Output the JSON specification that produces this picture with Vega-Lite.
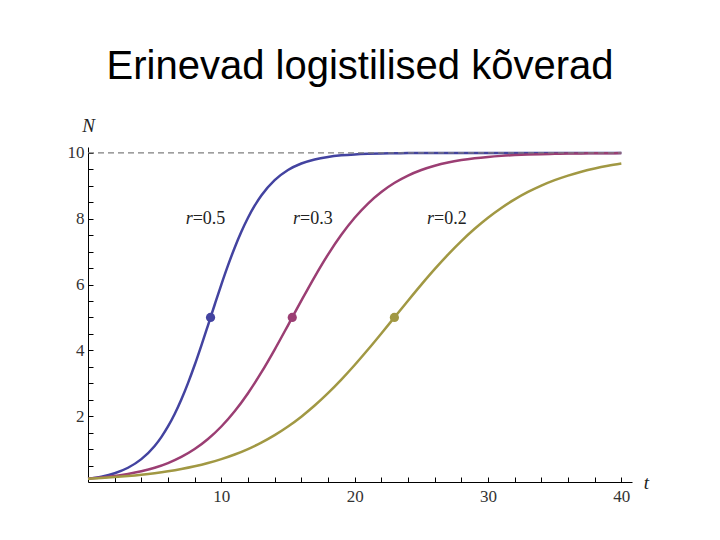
{
  "$schema": "https://vega.github.io/schema/vega-lite/v6.json",
  "autosize": {"type": "none"},
  "width": 544,
  "height": 335,
  "padding": {"left": 88, "top": 147, "right": 88, "bottom": 58},
  "background": "white",
  "title": {
    "text": "Erinevad logistilised kõverad",
    "font": "Liberation Sans",
    "fontSize": 40,
    "fontWeight": "normal",
    "color": "#000000",
    "anchor": "middle",
    "frame": "group",
    "baseline": "alphabetic",
    "offset": -3
  },
  "config": {
    "view": {"stroke": null},
    "axis": {
      "grid": false,
      "domainColor": "#000000",
      "domainWidth": 1,
      "tickColor": "#000000",
      "tickWidth": 1,
      "labelOverlap": false,
      "labelFont": "Liberation Serif",
      "labelFontSize": 17,
      "labelColor": "#333333",
      "titleFont": "Liberation Serif",
      "titleFontStyle": "italic",
      "titleFontWeight": "normal",
      "titleFontSize": 19,
      "titleColor": "#222222"
    }
  },
  "datasets": {
    "curves": [
      {"series": "0.5", "t": 0, "N": 0.1},
      {"series": "0.5", "t": 1, "N": 0.1638},
      {"series": "0.5", "t": 2, "N": 0.2672},
      {"series": "0.5", "t": 3, "N": 0.4331},
      {"series": "0.5", "t": 4, "N": 0.6945},
      {"series": "0.5", "t": 5, "N": 1.0957},
      {"series": "0.5", "t": 5.5, "N": 1.3645},
      {"series": "0.5", "t": 6, "N": 1.6867},
      {"series": "0.5", "t": 6.5, "N": 2.0667},
      {"series": "0.5", "t": 7, "N": 2.5066},
      {"series": "0.5", "t": 7.5, "N": 3.0046},
      {"series": "0.5", "t": 8, "N": 3.5546},
      {"series": "0.5", "t": 8.5, "N": 4.1457},
      {"series": "0.5", "t": 9, "N": 4.7624},
      {"series": "0.5", "t": 9.5, "N": 5.3864},
      {"series": "0.5", "t": 10, "N": 5.9986},
      {"series": "0.5", "t": 10.5, "N": 6.5811},
      {"series": "0.5", "t": 11, "N": 7.1195},
      {"series": "0.5", "t": 11.5, "N": 7.604},
      {"series": "0.5", "t": 12, "N": 8.0296},
      {"series": "0.5", "t": 12.5, "N": 8.3955},
      {"series": "0.5", "t": 13, "N": 8.7044},
      {"series": "0.5", "t": 14, "N": 9.172},
      {"series": "0.5", "t": 15, "N": 9.481},
      {"series": "0.5", "t": 16, "N": 9.6786},
      {"series": "0.5", "t": 17, "N": 9.8026},
      {"series": "0.5", "t": 18, "N": 9.8793},
      {"series": "0.5", "t": 19, "N": 9.9264},
      {"series": "0.5", "t": 20, "N": 9.9552},
      {"series": "0.5", "t": 21, "N": 9.9728},
      {"series": "0.5", "t": 22, "N": 9.9835},
      {"series": "0.5", "t": 23, "N": 9.99},
      {"series": "0.5", "t": 24, "N": 9.9939},
      {"series": "0.5", "t": 25, "N": 9.9963},
      {"series": "0.5", "t": 26, "N": 9.9978},
      {"series": "0.5", "t": 28, "N": 9.9992},
      {"series": "0.5", "t": 30, "N": 9.9997},
      {"series": "0.5", "t": 34, "N": 10.0},
      {"series": "0.5", "t": 40, "N": 10.0},
      {"series": "0.3", "t": 0, "N": 0.1},
      {"series": "0.3", "t": 1, "N": 0.1345},
      {"series": "0.3", "t": 2, "N": 0.1807},
      {"series": "0.3", "t": 3, "N": 0.2424},
      {"series": "0.3", "t": 4, "N": 0.3245},
      {"series": "0.3", "t": 5, "N": 0.4331},
      {"series": "0.3", "t": 6, "N": 0.5759},
      {"series": "0.3", "t": 7, "N": 0.762},
      {"series": "0.3", "t": 8, "N": 1.0019},
      {"series": "0.3", "t": 9, "N": 1.3066},
      {"series": "0.3", "t": 10, "N": 1.6867},
      {"series": "0.3", "t": 11, "N": 2.1499},
      {"series": "0.3", "t": 12, "N": 2.699},
      {"series": "0.3", "t": 13, "N": 3.329},
      {"series": "0.3", "t": 14, "N": 4.0248},
      {"series": "0.3", "t": 15, "N": 4.7624},
      {"series": "0.3", "t": 16, "N": 5.5104},
      {"series": "0.3", "t": 17, "N": 6.2361},
      {"series": "0.3", "t": 18, "N": 6.9102},
      {"series": "0.3", "t": 19, "N": 7.5117},
      {"series": "0.3", "t": 20, "N": 8.0296},
      {"series": "0.3", "t": 21, "N": 8.4617},
      {"series": "0.3", "t": 22, "N": 8.8131},
      {"series": "0.3", "t": 23, "N": 9.0928},
      {"series": "0.3", "t": 24, "N": 9.3118},
      {"series": "0.3", "t": 25, "N": 9.4809},
      {"series": "0.3", "t": 26, "N": 9.6102},
      {"series": "0.3", "t": 27, "N": 9.7083},
      {"series": "0.3", "t": 28, "N": 9.7822},
      {"series": "0.3", "t": 29, "N": 9.8378},
      {"series": "0.3", "t": 30, "N": 9.8793},
      {"series": "0.3", "t": 31, "N": 9.9103},
      {"series": "0.3", "t": 32, "N": 9.9334},
      {"series": "0.3", "t": 33, "N": 9.9506},
      {"series": "0.3", "t": 34, "N": 9.9633},
      {"series": "0.3", "t": 35, "N": 9.9728},
      {"series": "0.3", "t": 36, "N": 9.9798},
      {"series": "0.3", "t": 37, "N": 9.9851},
      {"series": "0.3", "t": 38, "N": 9.9889},
      {"series": "0.3", "t": 39, "N": 9.9918},
      {"series": "0.3", "t": 40, "N": 9.9939},
      {"series": "0.2", "t": 0, "N": 0.1},
      {"series": "0.2", "t": 1, "N": 0.1219},
      {"series": "0.2", "t": 2, "N": 0.1485},
      {"series": "0.2", "t": 3, "N": 0.1807},
      {"series": "0.2", "t": 4, "N": 0.2199},
      {"series": "0.2", "t": 5, "N": 0.2672},
      {"series": "0.2", "t": 6, "N": 0.3245},
      {"series": "0.2", "t": 7, "N": 0.3935},
      {"series": "0.2", "t": 8, "N": 0.4765},
      {"series": "0.2", "t": 9, "N": 0.5759},
      {"series": "0.2", "t": 10, "N": 0.6945},
      {"series": "0.2", "t": 11, "N": 0.8355},
      {"series": "0.2", "t": 12, "N": 1.0019},
      {"series": "0.2", "t": 13, "N": 1.1972},
      {"series": "0.2", "t": 14, "N": 1.4245},
      {"series": "0.2", "t": 15, "N": 1.6867},
      {"series": "0.2", "t": 16, "N": 1.9859},
      {"series": "0.2", "t": 17, "N": 2.3235},
      {"series": "0.2", "t": 18, "N": 2.699},
      {"series": "0.2", "t": 19, "N": 3.1107},
      {"series": "0.2", "t": 20, "N": 3.5546},
      {"series": "0.2", "t": 21, "N": 4.0248},
      {"series": "0.2", "t": 22, "N": 4.5138},
      {"series": "0.2", "t": 23, "N": 5.0122},
      {"series": "0.2", "t": 24, "N": 5.5104},
      {"series": "0.2", "t": 25, "N": 5.9986},
      {"series": "0.2", "t": 26, "N": 6.4677},
      {"series": "0.2", "t": 27, "N": 6.9102},
      {"series": "0.2", "t": 28, "N": 7.3202},
      {"series": "0.2", "t": 29, "N": 7.6939},
      {"series": "0.2", "t": 30, "N": 8.0296},
      {"series": "0.2", "t": 31, "N": 8.327},
      {"series": "0.2", "t": 32, "N": 8.5874},
      {"series": "0.2", "t": 33, "N": 8.8131},
      {"series": "0.2", "t": 34, "N": 9.0068},
      {"series": "0.2", "t": 35, "N": 9.172},
      {"series": "0.2", "t": 36, "N": 9.3118},
      {"series": "0.2", "t": 37, "N": 9.4294},
      {"series": "0.2", "t": 38, "N": 9.5279},
      {"series": "0.2", "t": 39, "N": 9.6102},
      {"series": "0.2", "t": 40, "N": 9.6786}
    ],
    "midpoints": [
      {"series": "0.5", "t": 9.19, "N": 5},
      {"series": "0.3", "t": 15.32, "N": 5},
      {"series": "0.2", "t": 22.98, "N": 5}
    ],
    "capacity": [
      {"t0": 0, "t1": 40, "K": 10}
    ],
    "labels": [
      {"series": "0.5", "t": 7.85, "N": 7.98, "sym": "r", "val": "=0.5"},
      {"series": "0.3", "t": 15.9, "N": 7.98, "sym": "r", "val": "=0.3"},
      {"series": "0.2", "t": 25.95, "N": 7.98, "sym": "r", "val": "=0.2"}
    ]
  },
  "layer": [
    {
      "data": {"name": "curves"},
      "mark": {"type": "line", "strokeWidth": 2.5, "interpolate": "monotone"},
      "encoding": {
        "x": {
          "field": "t",
          "type": "quantitative",
          "scale": {"domain": [0, 40.8], "nice": false, "zero": false},
          "axis": {
            "title": "t",
            "titleX": 558,
            "titleY": 0,
            "titleAngle": 0,
            "titleAlign": "center",
            "titleBaseline": "middle",
            "values": [2, 4, 6, 8, 10, 12, 14, 16, 18, 20, 22, 24, 26, 28, 30, 32, 34, 36, 38, 40],
            "tickCount": 200,
            "format": ".0f",
            "labelExpr": "datum.value == 10 || datum.value == 20 || datum.value == 30 || datum.value == 40 ? datum.label : ''",
            "labelOverlap": false,
            "labelFlush": false,
            "labelFontSize": 17,
            "tickSize": -5,
            "labelPadding": 11,
            "labelBaseline": "top"
          }
        },
        "y": {
          "field": "N",
          "type": "quantitative",
          "scale": {"domain": [0, 10.18], "nice": false, "zero": false},
          "axis": {
            "title": "N",
            "titleX": 0,
            "titleY": -22,
            "titleAngle": 0,
            "titleAlign": "center",
            "titleBaseline": "middle",
            "values": [0.5, 1, 1.5, 2, 2.5, 3, 3.5, 4, 4.5, 5, 5.5, 6, 6.5, 7, 7.5, 8, 8.5, 9, 9.5, 10],
            "tickCount": 200,
            "format": ".0f",
            "labelExpr": "datum.value == 2 || datum.value == 4 || datum.value == 6 || datum.value == 8 || datum.value == 10 ? datum.label : ''",
            "labelOverlap": false,
            "labelFlush": false,
            "labelFontSize": 17,
            "tickSize": -5,
            "labelPadding": 9
          }
        },
        "color": {
          "field": "series",
          "type": "nominal",
          "scale": {"domain": ["0.5", "0.3", "0.2"], "range": ["#4343a0", "#9b3e73", "#a19843"]},
          "legend": null
        },
        "detail": {"field": "series"}
      }
    },
    {
      "data": {"name": "midpoints"},
      "mark": {"type": "circle", "size": 85, "opacity": 1},
      "encoding": {
        "x": {"field": "t", "type": "quantitative"},
        "y": {"field": "N", "type": "quantitative"},
        "color": {"field": "series", "type": "nominal", "legend": null}
      }
    },
    {
      "data": {"name": "capacity"},
      "mark": {"type": "rule", "color": "#7f7f7f", "strokeWidth": 1.3, "strokeDash": [6, 4]},
      "encoding": {
        "x": {"field": "t0", "type": "quantitative"},
        "x2": {"field": "t1"},
        "y": {"field": "K", "type": "quantitative"}
      }
    },
    {
      "data": {"name": "labels"},
      "mark": {"type": "text", "font": "Liberation Serif", "fontSize": 18, "fontStyle": "italic", "align": "right", "baseline": "middle", "color": "#222222"},
      "encoding": {
        "x": {"field": "t", "type": "quantitative"},
        "y": {"field": "N", "type": "quantitative"},
        "text": {"field": "sym"}
      }
    },
    {
      "data": {"name": "labels"},
      "mark": {"type": "text", "font": "Liberation Serif", "fontSize": 18, "align": "left", "baseline": "middle", "color": "#222222"},
      "encoding": {
        "x": {"field": "t", "type": "quantitative"},
        "y": {"field": "N", "type": "quantitative"},
        "text": {"field": "val"}
      }
    }
  ]
}
